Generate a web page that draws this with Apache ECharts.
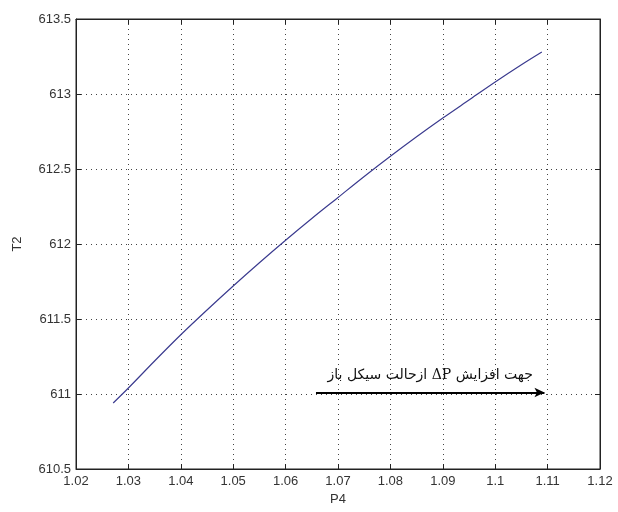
<!DOCTYPE html>
<html>
<head>
<meta charset="utf-8">
<script src="https://cdn.jsdelivr.net/npm/echarts@6/dist/echarts.min.js"></script>
<style>
html,body{margin:0;padding:0;background:#fff;}
#chart{width:618px;height:512px;}
</style>
</head>
<body>
<div id="chart"></div>
<script>
// P4 vs T2
var p4 = [1.0271, 1.03, 1.035, 1.04, 1.045, 1.05, 1.055, 1.06, 1.065, 1.07, 1.075, 1.08, 1.085, 1.09, 1.095, 1.10, 1.105, 1.1089];
var t2 = [610.94, 611.04, 611.22, 611.395, 611.56, 611.72, 611.875, 612.025, 612.17, 612.31, 612.45, 612.585, 612.715, 612.84, 612.96, 613.08, 613.195, 613.28];

// arrow + note (RTL embedding so the sentence reads right to left)
var arrowFrom = [1.0658, 611.01];
var arrowTo = [1.1094, 611.01];
var note = '\u202Bجهت افزایش ΔP ازحالت سیکل باز\u202C';

var lineData = p4.map(function (x, i) { return [x, t2[i]]; });

var fmt = function (v) { return String(parseFloat(v.toFixed(2))); };
var labelStyle = { color: '#333', fontSize: 13, fontFamily: 'Liberation Sans, Arial' };
var dotted = { show: true, lineStyle: { color: '#444', type: [1, 4], width: 1 } };

var chart = echarts.init(document.getElementById('chart'));
chart.setOption({
    backgroundColor: '#fff',
    animation: false,
    grid: { left: 76, right: 18, top: 19, bottom: 43, show: true, borderColor: '#222', borderWidth: 1, backgroundColor: 'transparent' },
    xAxis: [
        {
            type: 'value', min: 1.02, max: 1.12, interval: 0.01,
            name: 'P4', nameLocation: 'middle', nameGap: 24,
            nameTextStyle: { color: '#333', fontSize: 13, fontFamily: 'Liberation Sans, Arial' },
            axisLine: { show: true, lineStyle: { color: '#222' } },
            axisTick: { show: true, inside: true, length: 5, lineStyle: { color: '#222' } },
            axisLabel: Object.assign({ formatter: fmt, margin: 6 }, labelStyle),
            splitLine: dotted
        },
        {
            type: 'value', position: 'top', min: 1.02, max: 1.12, interval: 0.01,
            axisLine: { show: true, lineStyle: { color: '#222' } },
            axisTick: { show: true, inside: true, length: 5, lineStyle: { color: '#222' } },
            axisLabel: { show: false }, splitLine: { show: false }
        }
    ],
    yAxis: [
        {
            type: 'value', min: 610.5, max: 613.5, interval: 0.5,
            name: 'T2', nameLocation: 'middle', nameGap: 52, nameRotate: 90,
            nameTextStyle: { color: '#333', fontSize: 13, fontFamily: 'Liberation Sans, Arial' },
            axisLine: { show: true, lineStyle: { color: '#222' } },
            axisTick: { show: true, inside: true, length: 5, lineStyle: { color: '#222' } },
            axisLabel: Object.assign({ formatter: fmt, margin: 5 }, labelStyle),
            splitLine: dotted
        },
        {
            type: 'value', position: 'right', min: 610.5, max: 613.5, interval: 0.5,
            axisLine: { show: true, lineStyle: { color: '#222' } },
            axisTick: { show: true, inside: true, length: 5, lineStyle: { color: '#222' } },
            axisLabel: { show: false }, splitLine: { show: false }
        }
    ],
    series: [
        {
            type: 'line',
            data: lineData,
            smooth: 0.3,
            showSymbol: false,
            lineStyle: { color: '#3b3b8f', width: 1.2 },
            markLine: {
                silent: true,
                symbol: ['none', 'arrow'],
                symbolSize: [7, 10],
                lineStyle: { color: '#000', width: 2, type: 'solid' },
                label: {
                    show: true, position: 'middle', distance: 10,
                    formatter: note,
                    color: '#111', fontSize: 14, fontFamily: 'DejaVu Serif, DejaVu Sans, serif'
                },
                data: [[{ coord: arrowFrom }, { coord: arrowTo }]]
            }
        }
    ]
});
</script>
</body>
</html>
